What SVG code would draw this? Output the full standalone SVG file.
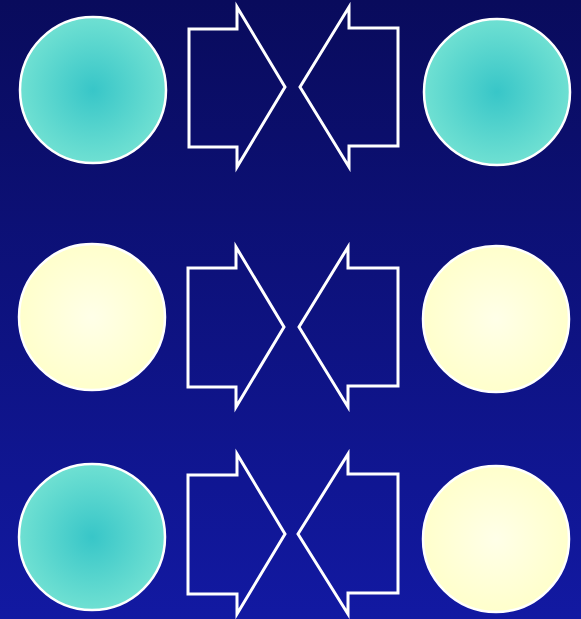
<svg xmlns="http://www.w3.org/2000/svg" width="581" height="619" viewBox="0 0 581 619">
<defs>
<linearGradient id="bg" x1="0" y1="0" x2="0" y2="1">
<stop offset="0" stop-color="#090b5c"/>
<stop offset="1" stop-color="#1219a2"/>
</linearGradient>
<radialGradient id="teal" cx="0.5" cy="0.5" r="0.5">
<stop offset="0" stop-color="#38c6c8"/>
<stop offset="1" stop-color="#6fe0d2"/>
</radialGradient>
<radialGradient id="cream" cx="0.5" cy="0.5" r="0.5">
<stop offset="0" stop-color="#ffffe8"/>
<stop offset="1" stop-color="#ffffcc"/>
</radialGradient>
<style>
.c{stroke:#fff;stroke-width:2.5}
.t{fill:url(#teal)}
.y{fill:url(#cream)}
.a{fill:none;stroke:#fff;stroke-width:3;stroke-linejoin:miter}
</style>
</defs>
<rect width="581" height="619" fill="url(#bg)"/>
<g id="circle-1-left"><circle class="c t" cx="93" cy="90" r="73"/></g>
<g id="circle-1-right"><circle class="c t" cx="497" cy="92" r="73"/></g>
<g id="circle-2-left"><circle class="c y" cx="92" cy="317" r="73"/></g>
<g id="circle-2-right"><circle class="c y" cx="496" cy="319" r="73"/></g>
<g id="circle-3-left"><circle class="c t" cx="92" cy="537" r="73"/></g>
<g id="circle-3-right"><circle class="c y" cx="496" cy="539" r="73"/></g>
<g id="connectors">
<g id="arrow-1-right"><polygon class="a" points="189,29 237,29 237,7 285,87 237,167 237,147 189,147"/></g>
<g id="arrow-1-left"><polygon class="a" points="398,28 349,28 349,7 300,87 349,167 349,146 398,146"/></g>
<g id="arrow-2-right"><polygon class="a" points="188,268 236,268 236,247 284,327 236,407 236,387 188,387"/></g>
<g id="arrow-2-left"><polygon class="a" points="398,268 348,268 348,247 299,327 348,407 348,386 398,386"/></g>
<g id="arrow-3-right"><polygon class="a" points="188,475 237,475 237,454 285,534 237,614 237,594 188,594"/></g>
<g id="arrow-3-left"><polygon class="a" points="398,474 348,474 348,454 298,534 348,614 348,593 398,593"/></g>
</g>
</svg>
